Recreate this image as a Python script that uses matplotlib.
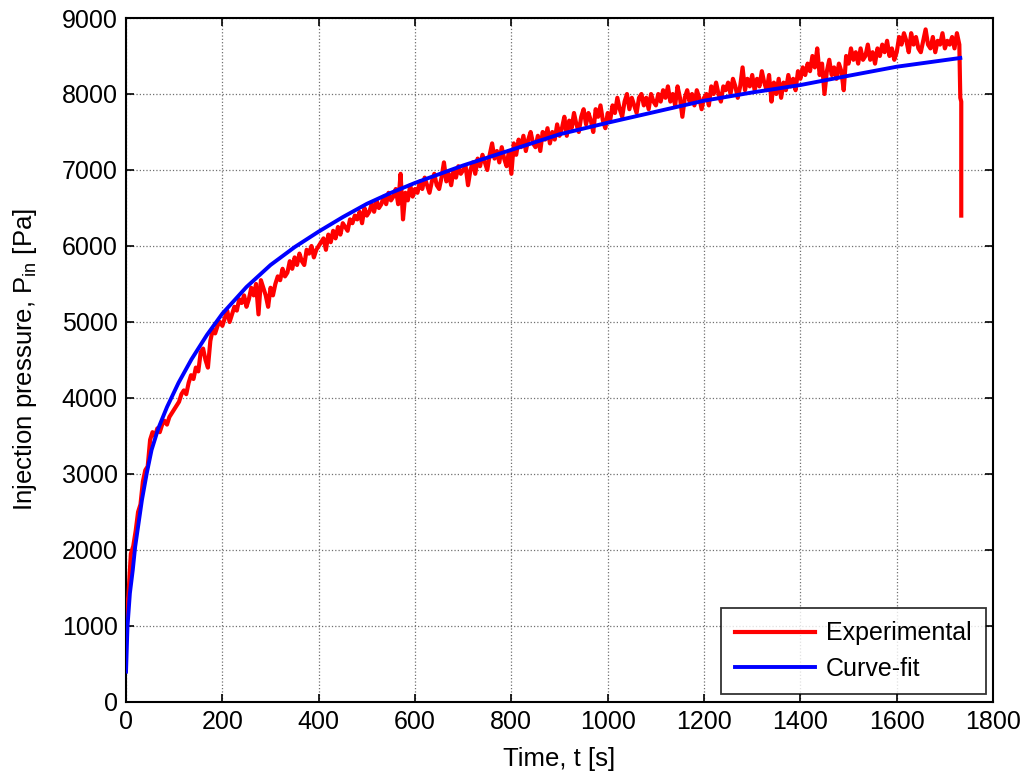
"""
Injection pressure history: measured signal against the fitted curve.
"""

import numpy as np
import matplotlib
matplotlib.use('Agg')
import matplotlib.pyplot as plt

plt.rcParams['font.family'] = ['Liberation Sans', 'DejaVu Sans']
plt.rcParams['mathtext.fontset'] = 'custom'
plt.rcParams['mathtext.rm'] = 'Liberation Sans'

# Measured pressure [Pa], sampled every 5 s from t = 0 to 1730 s
exp_pressure = [
    1100, 1400, 1950, 2050, 2250, 2500, 2600, 2900, 3050, 3100, 3450,
    3550, 3500, 3600, 3550, 3650, 3700, 3650, 3750, 3800, 3850,
    3900, 3950, 4050, 4100, 4050, 4200, 4300, 4250, 4400, 4350,
    4600, 4650, 4500, 4400, 4750, 4900, 4850, 4950, 5000, 4950,
    5050, 5150, 5000, 5100, 5200, 5150, 5300, 5250, 5350, 5200,
    5300, 5450, 5350, 5500, 5100, 5550, 5450, 5350, 5200, 5450,
    5350, 5500, 5600, 5550, 5700, 5600, 5650, 5800, 5700, 5850,
    5750, 5900, 5800, 5750, 5950, 5900, 6000, 5850, 5950, 6000,
    6050, 6100, 5950, 6150, 6050, 6200, 6100, 6250, 6150, 6300,
    6250, 6200, 6350, 6300, 6400, 6350, 6450, 6300, 6500, 6400,
    6450, 6550, 6450, 6600, 6500, 6550, 6650, 6550, 6700, 6600,
    6650, 6750, 6550, 6950, 6350, 6700, 6600, 6800, 6650, 6750,
    6700, 6850, 6750, 6900, 6800, 6700, 6850, 6950, 6800, 6750,
    6900, 7100, 6850, 6950, 6800, 7000, 6900, 7050, 6950, 7000,
    7050, 6800, 7000, 7100, 6950, 7150, 7050, 7200, 7100, 7000,
    7200, 7350, 7150, 7250, 7100, 7300, 7150, 7050, 7250, 6950,
    7350, 7200, 7400, 7300, 7450, 7250, 7400, 7500, 7350, 7300,
    7450, 7250, 7500, 7400, 7550, 7350, 7500, 7400, 7600, 7450,
    7550, 7700, 7450, 7650, 7550, 7750, 7600, 7500, 7700, 7800,
    7600, 7750, 7650, 7500, 7800, 7700, 7850, 7650, 7550, 7750,
    7650, 7850, 7750, 7950, 7800, 7700, 7900, 8000, 7800, 7950,
    7850, 7750, 7950, 8000, 7850, 7950, 7800, 8000, 7900, 7850,
    8000, 7900, 8050, 7950, 8100, 7900, 8000, 7850, 8100, 7950,
    7700, 7950, 8050, 7900, 8000, 7850, 8050, 7950, 7800, 7950,
    8000, 7850, 8100, 8000, 8150, 8000, 7900, 8100, 8050, 8150,
    8000, 8200, 8100, 7950, 8100, 8350, 8050, 8200, 8100, 8250,
    8050, 8200, 8100, 8300, 8150, 8050, 8250, 7900, 8150, 8000,
    8200, 7950, 8150, 8050, 8250, 8100, 8200, 8050, 8300, 8200,
    8350, 8250, 8400, 8300, 8500, 8350, 8600, 8250, 8400, 8000,
    8300, 8450, 8250, 8350, 8200, 8400, 8300, 8050, 8500, 8400,
    8600, 8450, 8550, 8400, 8600, 8450, 8500, 8650, 8450, 8550,
    8400, 8600, 8500, 8650, 8550, 8700, 8500, 8600, 8450, 8550,
    8750, 8650, 8800, 8700, 8550, 8800, 8650, 8750, 8600, 8550,
    8700, 8850, 8650, 8600, 8750, 8550, 8700, 8650, 8800, 8600,
    8700, 8650, 8750, 8600, 8800, 8650,
]
exp_step = 5

# pressure release at the end of the run
drop_time = [1732, 1734, 1734]
drop_pressure = [7950, 7900, 6400]

# fitted curve
fit_time = [0, 3, 8, 14, 19, 26, 33, 43, 53, 67, 85, 109, 136, 168, 200,
            250, 300, 350, 400, 450, 500, 550, 600, 700, 800, 900, 1000,
            1100, 1200, 1300, 1400, 1500, 1600, 1732]
fit_pressure = [399, 991, 1430, 1737, 2044, 2351, 2658, 3009, 3316, 3600,
                3880, 4200, 4510, 4830, 5110, 5460, 5750, 5985, 6190, 6380,
                6555, 6700, 6830, 7060, 7265, 7470, 7622, 7767, 7912, 8020,
                8118, 8240, 8359, 8474]

x_ticks = list(range(0, 1801, 200))
y_ticks = list(range(0, 9001, 1000))


def main():
    exp_time = np.arange(len(exp_pressure)) * exp_step
    t = np.concatenate([exp_time, drop_time])
    p = np.concatenate([exp_pressure, drop_pressure])

    fig = plt.figure(figsize=(10.28, 7.76), dpi=100)
    ax = fig.add_axes([0.1226, 0.0954, 0.8434, 0.8814])

    ax.plot(t, p, color='#ff0000', lw=3.0, label='Experimental', zorder=3)
    ax.plot(fit_time, fit_pressure, color='#0000ff', lw=2.8,
            label='Curve-fit', zorder=4)

    ax.set_xlim(0, 1800)
    ax.set_ylim(0, 9000)
    ax.set_xticks(x_ticks)
    ax.set_yticks(y_ticks)
    ax.grid(True, color='#707070', ls=':', lw=0.9)
    ax.tick_params(direction='in', length=6, width=1.2, labelsize=18,
                   top=True, right=True, pad=6)
    for s in ax.spines.values():
        s.set_linewidth(1.5)

    ax.set_xlabel('Time, t [s]', fontsize=18.5, labelpad=9)
    ax.set_ylabel(r'Injection pressure, P$_\mathregular{in}$ [Pa]',
                  fontsize=18.5, labelpad=16)

    leg = ax.legend(loc='lower right', fontsize=18, frameon=True,
                    fancybox=False, handlelength=3.2, handletextpad=0.45,
                    borderaxespad=0.3, borderpad=0.55, labelspacing=0.45)
    leg.get_frame().set_edgecolor('black')
    leg.get_frame().set_linewidth(1.3)

    fig.savefig('out.png', dpi=100)


if __name__ == '__main__':
    main()
